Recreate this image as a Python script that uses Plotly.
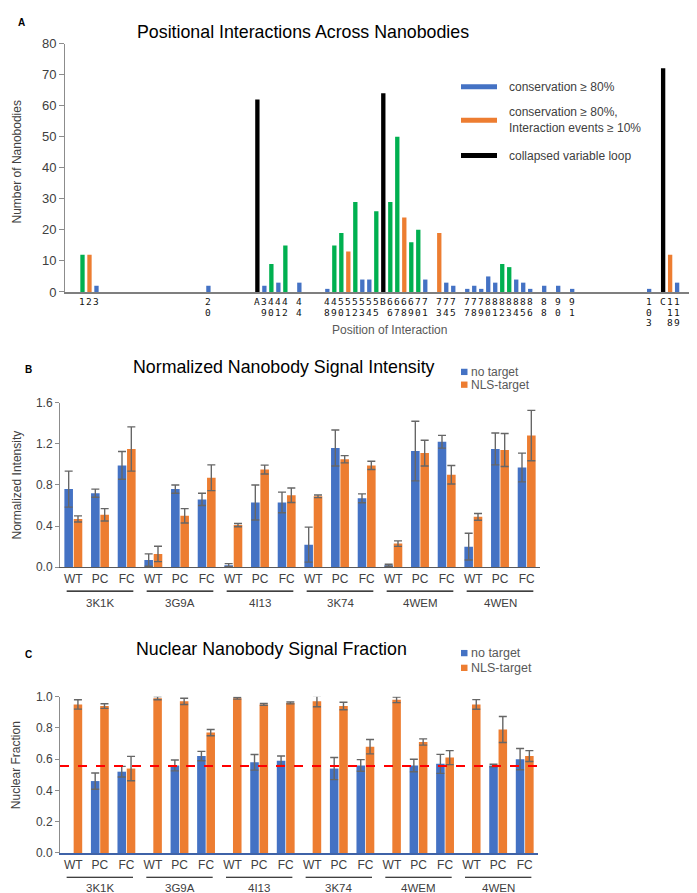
import plotly.graph_objects as go

W, H = 697, 893
FONT = "Liberation Sans"
MONO = "DejaVu Sans Mono"
BLUE, ORANGE, GREEN, BLACK = "#4472C4", "#ED7D31", "#00B050", "#000000"

# ---------------- Panel A data ----------------
# one entry per slot on the position axis ("" = empty slot)
slot_labels = (["1", "2", "3"] + [""] * 15 + ["20"] + [""] * 6 +
               ["A", "39", "40", "41", "42", "", "44", "", "", "", "48", "49", "50", "51",
                "52", "53", "54", "55", "B", "66", "67", "68", "69", "70", "71", "", "73",
                "74", "75", "", "77", "78", "79", "80", "81", "82", "83", "84", "85", "86",
                "", "88", "", "90", "", "91"] + [""] * 10 + ["103", "", "C", "118", "119"])

labels_A = ["1", "2", "3", "20", "A", "39", "40", "41", "42", "44", "48", "49", "50", "51", "52",
            "53", "54", "55", "B", "66", "67", "68", "69", "70", "71", "73", "74", "75", "77", "78",
            "79", "80", "81", "82", "83", "84", "85", "86", "88", "90", "91", "103", "C", "118", "119"]
counts_A = [12, 12, 2, 2, 62, 2, 9, 3, 15, 3, 1, 15, 19, 13, 29,
            4, 4, 26, 64, 29, 50, 24, 16, 20, 4, 19, 3, 2, 1, 2,
            1, 5, 3, 9, 8, 4, 3, 1, 2, 2, 1, 1, 72, 12, 3]
class_A = ["int", "cons_int", "cons", "cons", "loop", "cons", "int", "cons", "int", "cons",
           "cons", "int", "int", "cons_int", "int", "cons", "cons", "int", "loop", "int",
           "int", "cons_int", "int", "int", "cons", "cons_int", "cons", "cons", "cons", "cons",
           "cons", "cons", "cons", "int", "int", "cons", "cons", "cons", "cons", "cons",
           "cons", "cons", "loop", "cons_int", "cons"]
class_colors = {"cons": BLUE, "cons_int": ORANGE, "int": GREEN, "loop": BLACK}
legend_A = [("cons", "conservation ≥ 80%"),
            ("cons_int", "conservation ≥ 80%,<br>Interaction events ≥ 10%"),
            ("loop", "collapsed variable loop")]

# ---------------- Panels B / C data ----------------
groups = ["3K1K", "3G9A", "4I13", "3K74", "4WEM", "4WEN"]
conditions = ["WT", "PC", "FC"]
series_names = ["no target", "NLS-target"]

B_no = [0.76, 0.72, 0.99, 0.07, 0.76, 0.66, 0.02, 0.63, 0.63, 0.22, 1.16, 0.67, 0.02, 1.13, 1.22, 0.20, 1.15, 0.97]
B_no_err = [0.175, 0.04, 0.135, 0.06, 0.04, 0.06, 0.015, 0.17, 0.10, 0.17, 0.175, 0.043, 0.01, 0.29, 0.062, 0.13, 0.155, 0.14]
B_nls = [0.47, 0.51, 1.15, 0.13, 0.50, 0.87, 0.41, 0.95, 0.70, 0.69, 1.05, 0.99, 0.23, 1.11, 0.90, 0.49, 1.14, 1.28]
B_nls_err = [0.03, 0.06, 0.215, 0.075, 0.07, 0.125, 0.016, 0.043, 0.07, 0.013, 0.035, 0.04, 0.027, 0.125, 0.09, 0.033, 0.16, 0.245]

C_no = [None, 0.46, 0.52, None, 0.56, 0.62, None, 0.58, 0.59, None, 0.54, 0.56, None, 0.56, 0.57, None, 0.56, 0.60]
C_no_err = [0, 0.052, 0.034, 0, 0.035, 0.03, 0, 0.05, 0.03, 0, 0.071, 0.037, 0, 0.04, 0.061, 0, 0.008, 0.068]
C_nls = [0.95, 0.94, 0.54, 0.99, 0.97, 0.77, 0.99, 0.95, 0.96, 0.97, 0.94, 0.68, 0.98, 0.71, 0.61, 0.95, 0.79, 0.62]
C_nls_err = [0.03, 0.015, 0.078, 0.01, 0.02, 0.02, 0.006, 0.006, 0.006, 0.035, 0.024, 0.046, 0.018, 0.02, 0.045, 0.031, 0.083, 0.035]
C_threshold = 0.556


def px(x):
    return x / W


def py(y):
    return 1 - y / H


cats = [f"{g} {c}" for g in groups for c in conditions]
cat_text = [c for g in groups for c in conditions]

fig = go.Figure()

# Panel A bars
xA = [slot_labels.index(l) for l in labels_A]
fig.add_trace(go.Bar(x=xA, y=counts_A, width=0.62,
                     marker=dict(color=[class_colors[c] for c in class_A], line=dict(width=0)),
                     xaxis="x", yaxis="y", showlegend=False, hoverinfo="y"))

# Panels B and C bars
err_style = dict(type="data", color="#666666", thickness=1.4, width=4)
for vals, errs, color, name in [(B_no, B_no_err, BLUE, series_names[0]),
                                (B_nls, B_nls_err, ORANGE, series_names[1])]:
    fig.add_trace(go.Bar(x=cats, y=vals, name=name, marker=dict(color=color, line=dict(width=0)),
                         error_y=dict(array=errs, **err_style),
                         xaxis="x2", yaxis="y2", showlegend=False))
for vals, errs, color, name in [(C_no, C_no_err, BLUE, series_names[0]),
                                (C_nls, C_nls_err, ORANGE, series_names[1])]:
    fig.add_trace(go.Bar(x=cats, y=vals, name=name, marker=dict(color=color, line=dict(width=0)),
                         error_y=dict(array=errs, **err_style),
                         xaxis="x3", yaxis="y3", showlegend=False))

axis_gray = "#8C8C8C"
tick_font = dict(family=FONT, size=12, color="#404040")

layout = dict(
    width=W, height=H, margin=dict(l=0, r=0, t=0, b=0),
    paper_bgcolor="white", plot_bgcolor="white",
    barmode="group", bargap=0.3, bargroupgap=0.08,
    font=dict(family=FONT, color="#000"),
    xaxis=dict(domain=[px(57), px(695)], anchor="y", range=[-2.5, 88.7],
               showline=True, linecolor="#7F7F7F", linewidth=1.5, showticklabels=False,
               ticks="", showgrid=False, zeroline=False, fixedrange=True),
    yaxis=dict(domain=[py(281.7), py(29)], anchor="x", range=[0, 80], dtick=10,
               showline=True, linecolor=axis_gray, linewidth=1, ticks="outside", ticklen=5,
               tickcolor=axis_gray, tickfont=dict(family=FONT, size=13, color="#404040"),
               showgrid=False, zeroline=False),
    xaxis2=dict(domain=[px(52), px(532)], anchor="y2", type="category",
                categoryorder="array", categoryarray=cats, tickvals=cats, ticktext=cat_text,
                showline=True, linecolor="#595959", linewidth=1.2, ticks="",
                tickfont=tick_font, showgrid=False),
    yaxis2=dict(domain=[py(561.7), py(394.3)], anchor="x2", range=[0, 1.6], dtick=0.4,
                tickformat=".1f", showline=True, linecolor=axis_gray, ticks="outside", ticklen=4,
                tickcolor=axis_gray, tickfont=tick_font, showgrid=False, zeroline=False),
    xaxis3=dict(domain=[px(52), px(530)], anchor="y3", type="category",
                categoryorder="array", categoryarray=cats, tickvals=cats, ticktext=cat_text,
                showline=True, linecolor="#3F63A8", linewidth=1.5, ticks="",
                tickfont=tick_font, showgrid=False),
    yaxis3=dict(domain=[py(852.3), py(693.3)], anchor="x3", range=[0, 1.0], dtick=0.2,
                tickformat=".1f", showline=True, linecolor=axis_gray, ticks="outside", ticklen=4,
                tickcolor=axis_gray, tickfont=tick_font, showgrid=False, zeroline=False),
)
fig.update_layout(**layout)

ann = []
shapes = []

# Panel A position labels (vertical digit stacks, monospace)
row_shift = [-10, -20.5, -31]
for i, lab in enumerate(slot_labels):
    for r, ch in enumerate(lab):
        ann.append(dict(x=i, y=0, xref="x", yref="y", text=ch, showarrow=False,
                        yanchor="middle", xanchor="center", yshift=row_shift[r],
                        font=dict(family=MONO, size=9.5, color="#111")))

# titles and panel letters
ann += [
    dict(x=px(295), y=py(17), text="Positional Interactions Across Nanobodies",
         font=dict(size=17.8, color="#000")),
    dict(x=px(276), y=py(358), text="Normalized Nanobody Signal Intensity",
         font=dict(size=17.8, color="#000")),
    dict(x=px(263), y=py(645), text="Nuclear Nanobody Signal Fraction",
         font=dict(size=17.8, color="#000")),
    dict(x=px(13), y=py(8), text="<b>A</b>", font=dict(size=10)),
    dict(x=px(20), y=py(361), text="<b>B</b>", font=dict(size=10)),
    dict(x=px(20), y=py(650), text="<b>C</b>", font=dict(size=10)),
    dict(x=px(381), y=py(320), text="Position of Interaction",
         font=dict(size=12, color="#595959")),
    dict(x=px(9), y=py(150), text="Number of Nanobodies", textangle=-90,
         font=dict(size=12, color="#404040")),
    dict(x=px(8.5), y=py(478), text="Normalized Intensity", textangle=-90,
         font=dict(size=12, color="#404040")),
    dict(x=px(8), y=py(763), text="Nuclear Fraction", textangle=-90,
         font=dict(size=12, color="#404040")),
]
for a in ann:
    a.setdefault("xref", "paper")
    a.setdefault("yref", "paper")
    a.setdefault("showarrow", False)
    a.setdefault("xanchor", "center")
    a.setdefault("yanchor", "middle")
    a["font"].setdefault("family", FONT)

# Panel A legend
for k, (cls, text) in enumerate(legend_A):
    yy = [73, 107, 143][k]
    shapes.append(dict(type="line", xref="paper", yref="paper", x0=px(453), x1=px(489),
                       y0=py(yy), y1=py(yy), line=dict(color=class_colors[cls], width=5)))
    ann.append(dict(x=px(499), y=py(yy), xref="paper", yref="paper", text=text, showarrow=False,
                    xanchor="left", yanchor="middle", align="left",
                    font=dict(family=FONT, size=12, color="#404040")))

# Panels B / C group labels, underlines and legends
for xa, y_line, y_lab, leg_y, leg_size in [("x2", 586, 598, (363, 376), 12),
                                             ("x3", 877, 888, (649, 664), 12.5)]:
    for gi, g in enumerate(groups):
        shapes.append(dict(type="line", xref=xa, yref="paper", x0=3 * gi - 0.25, x1=3 * gi + 2.25,
                           y0=py(y_line), y1=py(y_line), line=dict(color="#000", width=1.2)))
        ann.append(dict(x=cats[3 * gi + 1], y=py(y_lab), xref=xa, yref="paper", text=g,
                        showarrow=False, xanchor="center", yanchor="middle",
                        font=dict(family=FONT, size=11.5, color="#404040")))
    for name, color, yy in zip(series_names, [BLUE, ORANGE], leg_y):
        shapes.append(dict(type="rect", xref="paper", yref="paper", x0=px(453), x1=px(459.5),
                           y0=py(yy + 3.2), y1=py(yy - 3.2), fillcolor=color, line=dict(width=0)))
        ann.append(dict(x=px(461), y=py(yy), xref="paper", yref="paper", text=name,
                        showarrow=False, xanchor="left", yanchor="middle",
                        font=dict(family=FONT, size=leg_size, color="#595959")))

# threshold line in panel C
shapes.append(dict(type="line", xref="x3 domain", yref="y3", x0=0, x1=1, y0=C_threshold,
                   y1=C_threshold, line=dict(color="#FF0000", width=2, dash="dash")))

fig.update_layout(annotations=ann, shapes=shapes)
fig.write_html("out.html")
